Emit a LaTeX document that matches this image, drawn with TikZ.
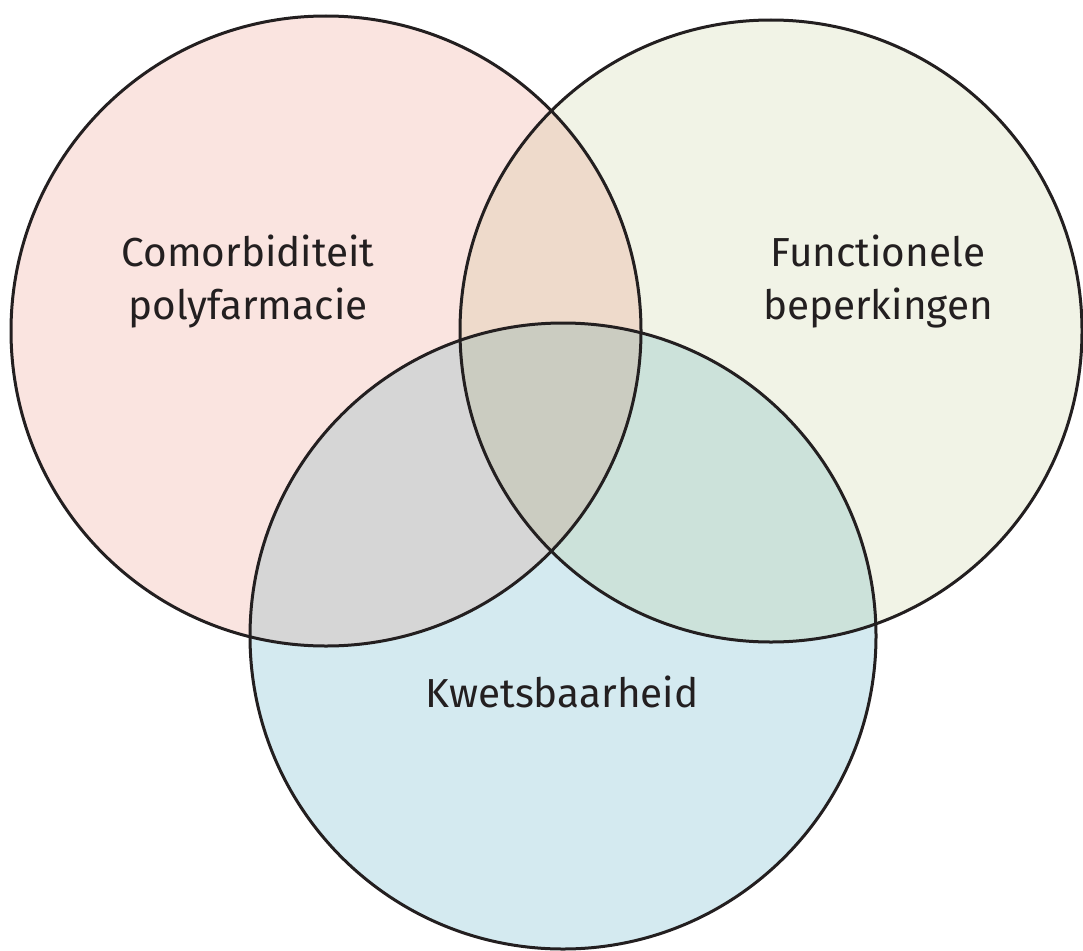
\documentclass[tikz,border=0pt]{standalone}
\usepackage{fontspec}
\setmainfont{Fira Sans}
\definecolor{roze}{HTML}{FAE4E0}
\definecolor{groen}{HTML}{F1F3E6}
\definecolor{blauw}{HTML}{D4EAF0}
\definecolor{rozegroen}{HTML}{EEDACB}
\definecolor{rozeblauw}{HTML}{D6D6D6}
\definecolor{groenblauw}{HTML}{CCE2DA}
\definecolor{midden}{HTML}{CBCCC1}
\definecolor{rand}{HTML}{231F20}
\tikzset{
  rondje/.style={draw=rand,line width=3pt},
  label/.style={text=rand,font=\fontsize{40.5}{53}\selectfont,align=center,inner sep=0pt}
}
\begin{document}
\begin{tikzpicture}[x=1pt,y=-1pt]
  \useasboundingbox (0,0) rectangle (1083,950);
  \coordinate (links) at (326,331);
  \coordinate (rechts) at (771,331);
  \coordinate (onder) at (563,636);
  % vlakken
  \fill[roze] (links) circle (315pt);
  \fill[groen] (rechts) circle (311pt);
  \fill[blauw] (onder) circle (313pt);
  \begin{scope}
    \clip (links) circle (315pt);
    \fill[rozegroen] (rechts) circle (311pt);
    \fill[rozeblauw] (onder) circle (313pt);
  \end{scope}
  \begin{scope}
    \clip (rechts) circle (311pt);
    \fill[groenblauw] (onder) circle (313pt);
    \clip (links) circle (315pt);
    \fill[midden] (onder) circle (313pt);
  \end{scope}
  % randen
  \node[rondje,circle,minimum size=630pt] (comorb) at (links) {};
  \node[rondje,circle,minimum size=622pt] (funct) at (rechts) {};
  \node[rondje,circle,minimum size=626pt] (kwets) at (onder) {};
  % teksten
  \node[label] (tcomorb) at (248,282) {Comorbiditeit\\polyfarmacie};
  \node[label] (tfunct) at (878,282) {Functionele\\beperkingen};
  \node[label,anchor=base] (tkwets) at (562,707) {Kwetsbaarheid};
\end{tikzpicture}
\end{document}
